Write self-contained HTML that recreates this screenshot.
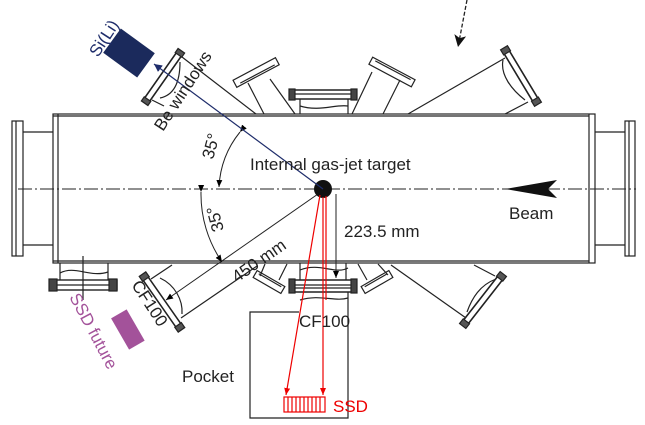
<!DOCTYPE html>
<html><head><style>body{margin:0;background:#fff}svg{display:block}text{font-family:"Liberation Sans",sans-serif}</style></head><body>
<svg width="645" height="425" viewBox="0 0 645 425" xmlns="http://www.w3.org/2000/svg">
<defs>
<marker id="ab" markerWidth="8" markerHeight="8" refX="7" refY="4" orient="auto" markerUnits="userSpaceOnUse"><path d="M0,1 L7,4 L0,7z" fill="#000"/></marker>
<marker id="abig" markerWidth="14" markerHeight="14" refX="12" refY="6" orient="auto" markerUnits="userSpaceOnUse"><path d="M0,0 L12,6 L0,12 L3,6z" fill="#111"/></marker>
<marker id="ar" markerWidth="8" markerHeight="8" refX="7" refY="4" orient="auto" markerUnits="userSpaceOnUse"><path d="M0,1 L7,4 L0,7z" fill="#e00"/></marker>
<marker id="abl" markerWidth="10" markerHeight="10" refX="8" refY="4" orient="auto" markerUnits="userSpaceOnUse"><path d="M0,0 L8,4 L0,8z" fill="#1f2d6b"/></marker>
</defs>
<g fill="none" stroke="#222" stroke-width="1.2">
<rect x="53" y="114" width="542" height="149"/>
<line x1="58" y1="114" x2="58" y2="263"/>
<line x1="589" y1="114" x2="589" y2="263"/>
<line x1="53" y1="116" x2="589" y2="116"/>
<line x1="53" y1="261" x2="589" y2="261"/>
<rect x="12" y="121" width="11" height="135"/><line x1="16" y1="121" x2="16" y2="256"/>
<line x1="23" y1="132" x2="53" y2="132"/><line x1="23" y1="245" x2="53" y2="245"/>
<rect x="625" y="121" width="10" height="135"/><line x1="629" y1="121" x2="629" y2="256"/>
<line x1="595" y1="132" x2="625" y2="132"/><line x1="595" y1="245" x2="625" y2="245"/>
<line x1="18" y1="189" x2="636" y2="189" stroke-width="0.9" stroke-dasharray="14,3,2,3"/>
<g transform="rotate(-55 163 77)"><rect x="133" y="74" width="60" height="6" stroke-width="1.6"/><rect x="131" y="73" width="5" height="8" fill="#555"/><rect x="190" y="73" width="5" height="8" fill="#555"/></g>
<line x1="182" y1="57" x2="256" y2="114"/><line x1="152" y1="100" x2="164" y2="106"/>
<path d="M160,98 C175,95 180,80 180,62"/>
<g transform="rotate(-28 257 72)"><rect x="232" y="68" width="48" height="8"/><line x1="237" y1="74" x2="276" y2="74"/></g>
<line x1="248" y1="83" x2="264" y2="114"/><line x1="270" y1="79" x2="295" y2="114"/>
<rect x="290" y="90" width="66" height="9" stroke-width="1.5"/><line x1="290" y1="94" x2="356" y2="94"/>
<rect x="289" y="89" width="6" height="11" fill="#444"/><rect x="351" y="89" width="6" height="11" fill="#444"/>
<line x1="300" y1="99" x2="300" y2="114"/><line x1="348" y1="99" x2="348" y2="114"/>
<path d="M300,106 C320,112 335,104 348,106"/>
<g transform="rotate(28 392 72)"><rect x="368" y="68" width="48" height="8"/><line x1="372" y1="70" x2="412" y2="70"/></g>
<line x1="352" y1="114" x2="372" y2="72"/><line x1="383" y1="114" x2="400" y2="80"/>
<g transform="rotate(59 521 76)"><rect x="490" y="73" width="62" height="6" stroke-width="1.6"/><rect x="488" y="72" width="6" height="8" fill="#555"/><rect x="548" y="72" width="6" height="8" fill="#555"/></g>
<line x1="408" y1="114" x2="505" y2="58"/><line x1="505" y1="114" x2="528" y2="102"/>
<path d="M503,60 C500,75 512,90 525,100"/>
<rect x="50" y="280" width="67" height="10" stroke-width="1.4"/><line x1="50" y1="285" x2="117" y2="285"/>
<rect x="49" y="279" width="8" height="12" fill="#444"/><rect x="109" y="279" width="8" height="12" fill="#444"/>
<line x1="60" y1="263" x2="60" y2="280"/><line x1="108" y1="263" x2="108" y2="280"/>
<path d="M60,273 C75,265 90,278 108,272"/>
<line x1="83" y1="256" x2="83" y2="300"/>
<g transform="rotate(55 162 302)"><rect x="130" y="299" width="64" height="6" stroke-width="1.6"/><rect x="128" y="298" width="6" height="8" fill="#555"/><rect x="190" y="298" width="6" height="8" fill="#555"/></g>
<line x1="151" y1="279" x2="172" y2="265"/><line x1="181" y1="318" x2="257" y2="266"/>
<path d="M160,278 C175,285 183,300 182,314"/>
<g transform="rotate(30 269 282)"><rect x="253" y="278" width="32" height="8"/><line x1="256" y1="280" x2="282" y2="280"/></g>
<line x1="265" y1="264" x2="260" y2="276"/><line x1="287" y1="264" x2="279" y2="280"/>
<g transform="rotate(-30 377 282)"><rect x="361" y="278" width="32" height="8"/><line x1="364" y1="280" x2="390" y2="280"/></g>
<line x1="358" y1="264" x2="367" y2="280"/><line x1="378" y1="264" x2="388" y2="275"/>
<rect x="290" y="280" width="66" height="12" stroke-width="1.5"/><line x1="290" y1="285" x2="356" y2="285"/><line x1="290" y1="288" x2="356" y2="288"/>
<rect x="289" y="279" width="6" height="14" fill="#444"/><rect x="351" y="279" width="6" height="14" fill="#444"/>
<line x1="300" y1="263" x2="300" y2="280"/><line x1="346" y1="263" x2="346" y2="280"/>
<path d="M300,270 C320,262 335,275 348,268"/><path d="M300,300 C320,294 335,302 348,298"/>
<g transform="rotate(-52 483 300)"><rect x="452" y="297" width="62" height="6" stroke-width="1.6"/><rect x="450" y="296" width="6" height="8" fill="#555"/><rect x="510" y="296" width="6" height="8" fill="#555"/></g>
<line x1="391" y1="265" x2="466" y2="318"/><line x1="474" y1="265" x2="495" y2="276"/>
<path d="M467,312 C472,298 480,285 496,279"/>
<polyline points="299,312 250,312 250,418 348,418 348,292"/>
<line x1="336" y1="194" x2="336" y2="278" stroke-width="1" marker-end="url(#ab)"/>
<line x1="318" y1="194" x2="166" y2="300" stroke-width="1" marker-start="url(#ab)" marker-end="url(#ab)"/>
<path d="M240,132 A95,95 0 0 0 219,187" stroke-width="1" marker-start="url(#ab)" marker-end="url(#ab)"/>
<path d="M201,192 A120,120 0 0 0 222,262" stroke-width="1" marker-start="url(#ab)" marker-end="url(#ab)"/>
<line x1="467" y1="0" x2="458" y2="47" stroke-width="1.3" stroke-dasharray="4,2" marker-end="url(#abig)"/>
</g>
<path d="M505,189 L557,180 L548,189 L557,198z" fill="#111"/>
<circle cx="323" cy="189" r="9" fill="#111"/>
<line x1="323" y1="189" x2="154" y2="64" stroke="#1f2d6b" stroke-width="1.2" marker-end="url(#abl)"/>
<g transform="rotate(36 129 53)"><rect x="108" y="38" width="42" height="30" fill="#1b2a5c"/></g>
<text transform="translate(98,58) rotate(-57)" font-size="17" fill="#1f2d6b">Si(Li)</text>
<g transform="rotate(-30 127 330)"><rect x="119" y="312" width="18" height="36" fill="#a3529a"/></g>
<text transform="translate(69,297) rotate(62)" font-size="17" fill="#a3529a">SSD future</text>
<g stroke="#e00" stroke-width="1.2" fill="none">
<line x1="320" y1="195" x2="286" y2="395" marker-end="url(#ar)"/>
<line x1="323" y1="197" x2="323" y2="395" marker-end="url(#ar)"/>
<line x1="326" y1="196" x2="326" y2="300"/>
<rect x="284" y="397" width="41" height="15"/>
<path d="M288,397v15M292,397v15M296,397v15M300,397v15M304,397v15M308,397v15M312,397v15M316,397v15M320,397v15"/>
</g>
<text x="333" y="412" font-size="17" fill="#e00">SSD</text>
<g font-size="17" fill="#222">
<text x="250" y="170">Internal gas-jet target</text>
<text x="509" y="219">Beam</text>
<text x="344" y="237">223.5 mm</text>
<text x="299" y="327">CF100</text>
<text x="182" y="382">Pocket</text>
<text transform="translate(213,160) rotate(-75)">35°</text>
<text transform="translate(224,230) rotate(-105)">35°</text>
<text transform="translate(237,283) rotate(-35)">450 mm</text>
<text transform="translate(163,132) rotate(-57)">Be windows</text>
<text transform="translate(131,285) rotate(57)">CF100</text>
</g>
</svg>
</body></html>
